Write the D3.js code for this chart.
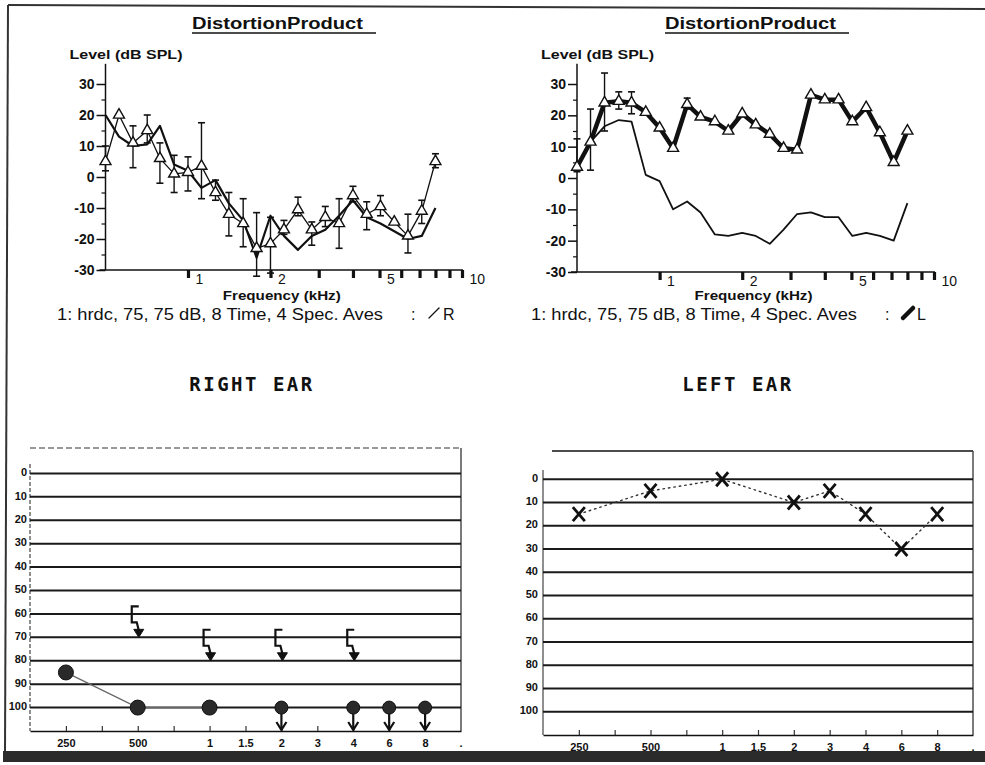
<!DOCTYPE html>
<html>
<head>
<meta charset="utf-8">
<script src="https://cdn.jsdelivr.net/npm/d3@7"></script>
<style>
  body { margin: 0; background: #fff; }
  svg text { fill: #111; }
</style>
</head>
<body>
<div id="chart"></div>
<script>
// DP-gram frequencies (kHz)
var dpFreqs = [0.5, 0.56, 0.63, 0.71, 0.79, 0.89, 1.0, 1.12, 1.26, 1.41, 1.59, 1.78, 2.0,
               2.24, 2.52, 2.83, 3.17, 3.56, 4.0, 4.49, 5.04, 5.66, 6.35, 7.13, 8.0];
var dpXTicks = [1, 2, 3, 4, 5, 6, 7, 8, 9, 10];
var dpXLabels = [1, 2, 5, 10];
var dpYTicks = [-30, -20, -10, 0, 10, 20, 30];
var dpYMinor = [-25, -15, -5, 5, 15, 25];

// right ear DP (dB SPL), error bar ends, noise floor
var rightDp    = [5, 20, 11, 15, 6, 1, 1.5, 3.5, -5, -12, -15, -23, -21.5, -17, -10.5, -17, -13, -15, -6, -12, -9.5, -14.5, -19, -11, 5];
var rightDpHi  = [10, null, 16.5, 20, 11, 7, 6.5, 17.5, -1, -5, -7, -11.5, -13, -14, -6.5, -14.5, -9.5, -7, -3, -8, -6, null, -12, -7.5, 7.5];
var rightDpLo  = [2, null, 3, 11, -2, -5, -4.5, -7, -7.5, -19, -22.5, -32, -31, -18.5, -12.5, -22, -16, -23, -8, -17, -12.5, null, -24.5, -15, 3];
var rightNoise = [20, 13, 10, 10.5, 16.5, 4, 2, -3.5, -1, -8.5, -14, -26, -12.5, -19, -23.5, -19, -17, -12.5, -7.5, -13, -15, -17.5, -20, -19, -10];

// left ear DP
var leftDp    = [3.5, 11.5, 24, 24.5, 24, 21, 16, 9.5, 23.5, 19.5, 18, 15, 20.5, 17, 14, 9.5, 9, 26.5, 25, 25, 18, 22.5, 14.5, 5, 15];
var leftDpHi  = [12.5, 22, 33.5, 27.5, 27.5, null, null, null, 25.5, null, null, null, null, null, null, null, null, null, null, null, null, null, null, null, null];
var leftDpLo  = [2, 2.5, 15, 22, 20.5, null, null, null, 22, null, null, null, null, null, null, null, null, null, null, null, null, null, null, null, null];
var leftNoise = [3.5, 11.5, 16.5, 18.5, 18, 1, -1, -10, -7.5, -11, -18, -18.5, -17.5, -18.5, -21, -16.5, -11.5, -11, -12.5, -12.5, -18.5, -17.5, -18.5, -20, -8];

// audiograms
var audioFreqs = [250, 375, 500, 750, 1000, 1500, 2000, 3000, 4000, 6000, 8000];
var audioTickLabels = ["250", "", "500", "", "1", "1.5", "2", "3", "4", "6", "8"];
var hlTicks = [0, 10, 20, 30, 40, 50, 60, 70, 80, 90, 100];

var rightAirFreqs  = [250, 500, 1000, 2000, 4000, 6000, 8000];
var rightAirLevels = [85, 100, 100, 100, 100, 100, 100];
var rightAirNoResp = [false, false, false, true, true, true, true];
var rightBoneFreqs  = [500, 1000, 2000, 4000];
var rightBoneLevels = [70, 80, 80, 80];

var leftAirFreqs  = [250, 500, 1000, 2000, 3000, 4000, 6000, 8000];
var leftAirLevels = [15, 5, 0, 10, 5, 15, 30, 15];

var W = 985, H = 765;
var sans = "'Liberation Sans', Arial, sans-serif";
var ink = "#111";

var svg = d3.select("#chart").append("svg")
    .attr("width", W).attr("height", H);
svg.append("rect").attr("width", W).attr("height", H).attr("fill", "#fff");

// scanned page edges
svg.append("line").attr("x1", 8).attr("y1", 5).attr("x2", W).attr("y2", 9)
    .attr("stroke", "#333").attr("stroke-width", 2);
svg.append("line").attr("x1", 8).attr("y1", 5).attr("x2", 5).attr("y2", 752)
    .attr("stroke", "#333").attr("stroke-width", 2);
svg.append("rect").attr("x", 3).attr("y", 751).attr("width", W).attr("height", 11)
    .attr("fill", "#2b2b2b");

function drawDP(o) {
    var x = d3.scaleLog().domain([0.5, 10]).range([o.x0, o.x1]);
    var y = d3.scaleLinear().domain([-30, 30]).range([o.yBottom, o.yTop]);
    var g = svg.append("g");

    // title
    g.append("text")
        .attr("x", o.titleX).attr("y", 29)
        .attr("textLength", 171).attr("lengthAdjust", "spacingAndGlyphs")
        .style("font", "bold 16px " + sans)
        .text("DistortionProduct");
    g.append("line")
        .attr("x1", o.titleX).attr("x2", o.titleX + 184)
        .attr("y1", 33).attr("y2", 33)
        .attr("stroke", ink).attr("stroke-width", 1.5);

    g.append("text")
        .attr("x", o.x0 - 36).attr("y", 59)
        .attr("textLength", 113).attr("lengthAdjust", "spacingAndGlyphs")
        .style("font", "bold 13px " + sans)
        .text("Level (dB SPL)");

    // y axis
    var yAxis = g.append("g")
        .attr("transform", "translate(" + o.x0 + ",0)")
        .call(d3.axisLeft(y).tickValues(dpYTicks).tickSize(9).tickPadding(2)
            .tickFormat(function (d) { return String(d); }));
    yAxis.select(".domain").remove();
    yAxis.selectAll("line").attr("stroke", ink).attr("stroke-width", 1.5);
    yAxis.selectAll("text").style("font", "bold 14px " + sans).attr("fill", ink);
    var yMinor = g.append("g")
        .attr("transform", "translate(" + o.x0 + ",0)")
        .call(d3.axisLeft(y).tickValues(dpYMinor).tickSize(4).tickFormat(""));
    yMinor.select(".domain").remove();
    yMinor.selectAll("line").attr("stroke", ink).attr("stroke-width", 1.2);
    g.append("line")
        .attr("x1", o.x0).attr("x2", o.x0)
        .attr("y1", y(36.5)).attr("y2", y(-30))
        .attr("stroke", ink).attr("stroke-width", 1.5);

    // x axis
    var xAxis = g.append("g")
        .attr("transform", "translate(0," + y(-30) + ")")
        .call(d3.axisBottom(x).tickValues(dpXTicks).tickSize(8).tickSizeOuter(0)
            .tickFormat(function (d) { return dpXLabels.indexOf(d) >= 0 ? d : ""; }));
    xAxis.select(".domain").remove();
    xAxis.selectAll("line").attr("stroke", ink).attr("stroke-width", 3.2);
    xAxis.selectAll("text")
        .style("font", "14px " + sans).attr("fill", ink)
        .attr("text-anchor", "start").attr("x", 7).attr("y", 4);
    g.append("line")
        .attr("x1", o.x0 - 6).attr("x2", x(10) + 1)
        .attr("y1", y(-30)).attr("y2", y(-30))
        .attr("stroke", ink).attr("stroke-width", 1.5);

    g.append("text")
        .attr("x", (o.x0 + o.x1) / 2 - 2).attr("y", 300)
        .attr("text-anchor", "middle")
        .attr("textLength", 118).attr("lengthAdjust", "spacingAndGlyphs")
        .style("font", "bold 13px " + sans)
        .text("Frequency (kHz)");

    var pts = dpFreqs.map(function (f, i) {
        return { f: f, v: o.dp[i], hi: o.hi[i], lo: o.lo[i], n: o.noise[i] };
    });
    var line = d3.line().x(function (d) { return x(d.f); }).y(function (d) { return y(d.v); });
    var noiseLine = d3.line().x(function (d) { return x(d.f); }).y(function (d) { return y(d.n); });

    g.append("path").datum(pts).attr("d", noiseLine)
        .attr("fill", "none").attr("stroke", ink)
        .attr("stroke-width", o.noiseWidth).attr("stroke-linejoin", "round");
    g.append("path").datum(pts).attr("d", line)
        .attr("fill", "none").attr("stroke", ink)
        .attr("stroke-width", o.dpWidth).attr("stroke-linejoin", "round");

    var bars = pts.filter(function (d) { return d.hi !== null; });
    var eb = g.selectAll(".eb").data(bars).enter().append("g");
    eb.append("line")
        .attr("x1", function (d) { return x(d.f); }).attr("x2", function (d) { return x(d.f); })
        .attr("y1", function (d) { return y(d.hi); }).attr("y2", function (d) { return y(d.lo); })
        .attr("stroke", ink).attr("stroke-width", 1.4);
    eb.append("line")
        .attr("x1", function (d) { return x(d.f) - 3.5; }).attr("x2", function (d) { return x(d.f) + 3.5; })
        .attr("y1", function (d) { return y(d.hi); }).attr("y2", function (d) { return y(d.hi); })
        .attr("stroke", ink).attr("stroke-width", 1.6);
    eb.append("line")
        .attr("x1", function (d) { return x(d.f) - 3.5; }).attr("x2", function (d) { return x(d.f) + 3.5; })
        .attr("y1", function (d) { return y(d.lo); }).attr("y2", function (d) { return y(d.lo); })
        .attr("stroke", ink).attr("stroke-width", 1.6);

    g.selectAll(".tri").data(pts).enter().append("path")
        .attr("d", d3.symbol().type(d3.symbolTriangle).size(52))
        .attr("transform", function (d) { return "translate(" + x(d.f) + "," + y(d.v) + ")"; })
        .attr("fill", "#fff").attr("stroke", ink).attr("stroke-width", 1.4);

    // settings line
    g.append("text")
        .attr("x", o.textX).attr("y", 320)
        .attr("textLength", 326).attr("lengthAdjust", "spacingAndGlyphs")
        .style("font", "16px " + sans)
        .text("1: hrdc,  75, 75 dB, 8 Time, 4 Spec. Aves");
    g.append("text")
        .attr("x", o.textX + 354).attr("y", 320)
        .style("font", "16px " + sans).text(":");
    g.append("line")
        .attr("x1", o.textX + 372).attr("y1", 318)
        .attr("x2", o.textX + 382).attr("y2", 308)
        .attr("stroke", ink).attr("stroke-width", o.dpWidth)
        .attr("stroke-linecap", "round");
    g.append("text")
        .attr("x", o.textX + 386).attr("y", 320)
        .style("font", "16px " + sans).text(o.ear);
}

drawDP({ x0: 105.5, x1: 462, yTop: 84, yBottom: 270, titleX: 192, textX: 57,
         dp: rightDp, hi: rightDpHi, lo: rightDpLo, noise: rightNoise,
         dpWidth: 1.3, noiseWidth: 2.2, ear: "R" });
drawDP({ x0: 577, x1: 934, yTop: 84, yBottom: 272, titleX: 665, textX: 531,
         dp: leftDp, hi: leftDpHi, lo: leftDpLo, noise: leftNoise,
         dpWidth: 4.5, noiseWidth: 1.8, ear: "L" });

// ear headings
svg.append("text").attr("x", 252).attr("y", 391).attr("text-anchor", "middle")
    .style("font", "bold 19px 'DejaVu Sans Mono', monospace").style("letter-spacing", "2.5px")
    .text("RIGHT EAR");
svg.append("text").attr("x", 738).attr("y", 391).attr("text-anchor", "middle")
    .style("font", "bold 19px 'DejaVu Sans Mono', monospace").style("letter-spacing", "2.5px")
    .text("LEFT EAR");

function drawAudiogram(o) {
    var x = d3.scalePoint().domain(audioFreqs).range([o.left, o.right]).padding(1);
    var y = d3.scaleLinear().domain([-10, 110]).range([o.yTop, o.yBottom]);
    var g = svg.append("g");

    // frame
    g.append("line").attr("x1", o.topX).attr("x2", o.right)
        .attr("y1", o.frameTop).attr("y2", o.frameTop)
        .attr("stroke", o.topDash ? "#777" : ink).attr("stroke-width", 1.3)
        .attr("stroke-dasharray", o.topDash ? "6,3" : null);
    g.append("line").attr("x1", o.left).attr("x2", o.left)
        .attr("y1", y(-4)).attr("y2", y(110))
        .attr("stroke", "#444").attr("stroke-width", 1.2)
        .attr("stroke-dasharray", o.topDash ? "4,2" : null);
    g.append("line").attr("x1", o.right).attr("x2", o.right)
        .attr("y1", o.frameTop).attr("y2", y(110))
        .attr("stroke", "#333").attr("stroke-width", 1.3);

    g.selectAll(".grid").data(hlTicks).enter().append("line")
        .attr("x1", o.left).attr("x2", o.right)
        .attr("y1", function (d) { return y(d); }).attr("y2", function (d) { return y(d); })
        .attr("stroke", "#1a1a1a").attr("stroke-width", 2);

    var yAxis = g.append("g").attr("transform", "translate(" + o.left + ",0)")
        .call(d3.axisLeft(y).tickValues(hlTicks).tickSize(0).tickPadding(o.labelPad));
    yAxis.select(".domain").remove();
    yAxis.selectAll("text").style("font", "bold 11px " + sans).attr("fill", ink).attr("dy", "0.2em");

    var xAxis = g.append("g").attr("transform", "translate(0," + y(110) + ")")
        .call(d3.axisBottom(x).tickSize(-5).tickSizeOuter(0).tickPadding(8)
            .tickFormat(function (d, i) { return audioTickLabels[i]; }));
    xAxis.select(".domain").attr("stroke", ink).attr("stroke-width", 1.5);
    xAxis.selectAll("line").attr("stroke", "#333").attr("stroke-width", 1.2);
    xAxis.selectAll("text").style("font", "bold 11px " + sans).attr("fill", ink);
    g.append("text").attr("x", o.right).attr("y", y(110) + 16)
        .attr("text-anchor", "middle").style("font", "bold 11px " + sans).text(".");

    return { g: g, x: x, y: y };
}

// right ear audiogram
var ra = drawAudiogram({ left: 30, right: 461, yTop: 450, yBottom: 731, frameTop: 448,
                         topX: 30, topDash: true, labelPad: 3 });
var rAir = rightAirFreqs.map(function (f, i) {
    return { f: f, v: rightAirLevels[i], nr: rightAirNoResp[i] };
});
ra.g.append("path")
    .datum(rAir.filter(function (d) { return !d.nr; }))
    .attr("d", d3.line().x(function (d) { return ra.x(d.f); }).y(function (d) { return ra.y(d.v); }))
    .attr("fill", "none").attr("stroke", "#666").attr("stroke-width", 1.3);
var nrs = rAir.filter(function (d) { return d.nr; });
ra.g.selectAll(".nrShaft").data(nrs).enter().append("line")
    .attr("x1", function (d) { return ra.x(d.f); }).attr("x2", function (d) { return ra.x(d.f); })
    .attr("y1", function (d) { return ra.y(d.v); }).attr("y2", function (d) { return ra.y(110) - 1; })
    .attr("stroke", ink).attr("stroke-width", 2.2);
ra.g.selectAll(".nrHead").data(nrs).enter().append("path")
    .attr("d", function (d) {
        var cx = ra.x(d.f), ty = ra.y(110) - 1;
        return "M" + (cx - 5) + "," + (ty - 8) + "L" + cx + "," + ty + "L" + (cx + 5) + "," + (ty - 8);
    })
    .attr("fill", "none").attr("stroke", ink).attr("stroke-width", 2.2);
ra.g.selectAll(".circ").data(rAir).enter().append("circle")
    .attr("cx", function (d) { return ra.x(d.f); })
    .attr("cy", function (d) { return ra.y(d.v); })
    .attr("r", function (d) { return d.nr ? 6.5 : 7.5; })
    .attr("fill", "#2a2a2a").attr("stroke", "#111").attr("stroke-width", 1);

var rBone = rightBoneFreqs.map(function (f, i) { return { f: f, v: rightBoneLevels[i] }; });
ra.g.selectAll(".bone").data(rBone).enter().append("path")
    .attr("d", function (d) {
        var cx = ra.x(d.f), ty = ra.y(d.v);
        return "M" + (cx + 1) + "," + (ty - 31) + "L" + (cx - 6) + "," + (ty - 31) +
            "L" + (cx - 6) + "," + (ty - 15) + "L" + (cx - 1) + "," + (ty - 15) +
            "L" + (cx + 1) + "," + (ty - 7);
    })
    .attr("fill", "none").attr("stroke", ink).attr("stroke-width", 2.2);
ra.g.selectAll(".boneHead").data(rBone).enter().append("path")
    .attr("d", function (d) {
        var cx = ra.x(d.f), ty = ra.y(d.v);
        return "M" + (cx - 4) + "," + (ty - 8) + "L" + (cx + 6) + "," + (ty - 8) +
            "L" + (cx + 1) + "," + ty + "Z";
    })
    .attr("fill", ink).attr("stroke", ink).attr("stroke-width", 1);

// left ear audiogram
var la = drawAudiogram({ left: 543, right: 973, yTop: 456, yBottom: 735, frameTop: 451,
                         topX: 552, topDash: false, labelPad: 5 });
var lAir = leftAirFreqs.map(function (f, i) { return { f: f, v: leftAirLevels[i] }; });
la.g.append("path").datum(lAir)
    .attr("d", d3.line().x(function (d) { return la.x(d.f); }).y(function (d) { return la.y(d.v); }))
    .attr("fill", "none").attr("stroke", "#333").attr("stroke-width", 1.4)
    .attr("stroke-dasharray", "1.5,4").attr("stroke-linecap", "round");
la.g.selectAll(".xm").data(lAir).enter().append("path")
    .attr("d", function (d) {
        var cx = la.x(d.f), cy = la.y(d.v);
        return "M" + (cx - 6) + "," + (cy - 7) + "L" + (cx + 6) + "," + (cy + 7) +
            "M" + (cx + 6) + "," + (cy - 7) + "L" + (cx - 6) + "," + (cy + 7);
    })
    .attr("fill", "none").attr("stroke", ink).attr("stroke-width", 2.8);
</script>
</body>
</html>
